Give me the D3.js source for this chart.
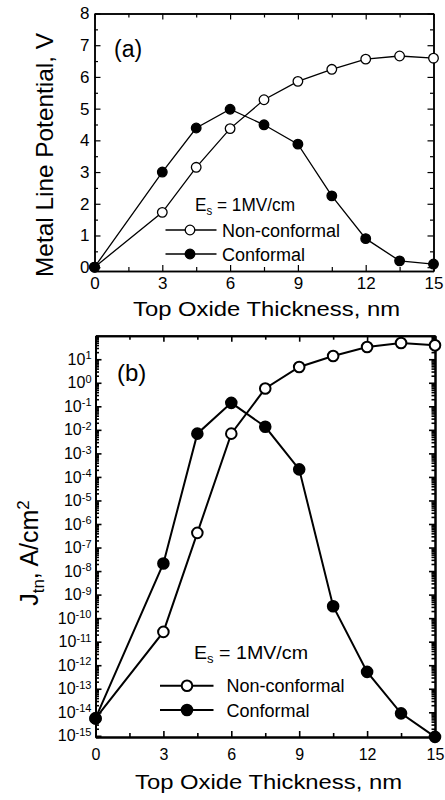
<!DOCTYPE html>
<html><head><meta charset="utf-8">
<script src="https://cdn.jsdelivr.net/npm/d3@7"></script>
<style>
body{margin:0;background:#fff}
svg{display:block}
text{font-family:"Liberation Sans",Arial,Helvetica,sans-serif;fill:#000}
</style>
</head><body>
<svg id="c" width="445" height="800"></svg>
<script>
// ---- data ----
const thickness = [0, 3, 4.5, 6, 7.5, 9, 10.5, 12, 13.5, 15];
const potNonConformal = [0, 1.73, 3.15, 4.37, 5.28, 5.86, 6.24, 6.56, 6.66, 6.59];
const potConformal = [0, 3.0, 4.39, 4.98, 4.49, 3.88, 2.25, 0.9, 0.2, 0.1];
const jNonConformal = [5.5e-15, 2.6e-11, 4.2e-7, 6.9e-3, 0.57, 4.7, 13.8, 33, 49, 39];
const jConformal = [5.5e-15, 2.1e-8, 6.9e-3, 0.14, 0.0135, 2.1e-4, 3.2e-10, 5.2e-13, 9e-15, 9e-16];
const xMajorTicks = [0, 3, 6, 9, 12, 15];
const xMinorTicks = [1.5, 4.5, 7.5, 10.5, 13.5];
const yTicksA = [0, 1, 2, 3, 4, 5, 6, 7, 8];
const yMinorA = [0.5, 1.5, 2.5, 3.5, 4.5, 5.5, 6.5, 7.5];
const yExponentsB = [-15, -14, -13, -12, -11, -10, -9, -8, -7, -6, -5, -4, -3, -2, -1, 0, 1];
const seriesNames = ["Non-conformal", "Conformal"];
const fieldLabel = "1MV/cm";

const svg = d3.select("#c");

// ---- scales ----
const xA = d3.scaleLinear().domain([0, 15]).range([94.5, 433.5]);
const yA = d3.scaleLinear().domain([-0.12, 8]).range([271, 13.5]);
const xB = d3.scaleLinear().domain([0, 15]).range([95.5, 435]);
const yB = d3.scaleLog().domain([Math.pow(10, -15.05), 100]).range([737, 335.7]);

function styleAxis(g, w) {
  g.selectAll("path.domain").attr("stroke", "#000").attr("stroke-width", w);
  g.selectAll(".tick line").attr("stroke", "#000").attr("stroke-width", w * 0.8);
  g.selectAll("text").attr("font-family", null).attr("fill", "#000");
}

// ---------- Panel (a) ----------
const pa = svg.append("g");
const ha = yA.range()[0], ta = yA.range()[1];
function frame(g, x, y, w, minorX, majorX, minorY, majorY, labFmt, labelPadY, labelPadX, fs) {
  const top = y.range()[1], bot = y.range()[0], left = x.range()[0], right = x.range()[1];
  // bottom
  g.append("g").attr("transform", `translate(0,${bot})`)
    .call(d3.axisBottom(x).tickValues(xMajorTicks).tickSize(-6).tickSizeOuter(0).tickPadding(labelPadX).tickFormat(d3.format("d")))
    .call(s => styleAxis(s, w)).call(s => s.selectAll("text").attr("font-size", fs));
  g.append("g").attr("transform", `translate(0,${bot})`)
    .call(d3.axisBottom(x).tickValues(xMinorTicks).tickSize(-4).tickSizeOuter(0).tickFormat(""))
    .call(s => styleAxis(s, w));
  // top
  g.append("g").attr("transform", `translate(0,${top})`)
    .call(d3.axisTop(x).tickValues(xMajorTicks).tickSize(-6).tickSizeOuter(0).tickFormat(""))
    .call(s => styleAxis(s, w));
  g.append("g").attr("transform", `translate(0,${top})`)
    .call(d3.axisTop(x).tickValues(xMinorTicks).tickSize(-4).tickSizeOuter(0).tickFormat(""))
    .call(s => styleAxis(s, w));
  // left
  const la = d3.axisLeft(y).tickValues(majorY).tickSize(-6).tickSizeOuter(0).tickPadding(labelPadY).tickFormat(labFmt);
  const lg = g.append("g").attr("transform", `translate(${left},0)`).call(la).call(s => styleAxis(s, w));
  lg.selectAll("text").attr("font-size", fs);
  g.append("g").attr("transform", `translate(${left},0)`)
    .call(d3.axisLeft(y).tickValues(minorY).tickSize(-3.5).tickSizeOuter(0).tickFormat(""))
    .call(s => styleAxis(s, w));
  // right
  g.append("g").attr("transform", `translate(${right},0)`)
    .call(d3.axisRight(y).tickValues(majorY).tickSize(-6).tickSizeOuter(0).tickFormat(""))
    .call(s => styleAxis(s, w));
  g.append("g").attr("transform", `translate(${right},0)`)
    .call(d3.axisRight(y).tickValues(minorY).tickSize(-3.5).tickSizeOuter(0).tickFormat(""))
    .call(s => styleAxis(s, w));
  return lg;
}

frame(pa, xA, yA, 1.5, xMinorTicks, xMajorTicks, yMinorA, yTicksA, d3.format("d"), 5, 6, "17px");

function drawSeries(g, x, y, vals, filled, lw, r) {
  const pts = thickness.map((t, i) => [t, vals[i]]);
  g.append("path").datum(pts)
    .attr("fill", "none").attr("stroke", "#000").attr("stroke-width", lw)
    .attr("d", d3.line().x(d => x(d[0])).y(d => y(d[1])));
  g.selectAll(null).data(pts).enter().append("circle")
    .attr("cx", d => x(d[0])).attr("cy", d => y(d[1])).attr("r", r)
    .attr("fill", filled ? "#000" : "#fff").attr("stroke", "#000").attr("stroke-width", lw);
}
drawSeries(pa, xA, yA, potNonConformal, false, 1.3, 4.8);
drawSeries(pa, xA, yA, potConformal, true, 1.3, 4.8);

pa.append("text").attr("x", 114).attr("y", 57).attr("font-size", "23px").text("(a)");

// x title (a)
pa.append("text").attr("x", 133).attr("y", 316).attr("font-size", "20px")
  .attr("textLength", 267).attr("lengthAdjust", "spacingAndGlyphs").text("Top Oxide Thickness, nm");
// y title (a)
pa.append("text").attr("transform", "translate(53,155) rotate(-90)").attr("text-anchor", "middle")
  .attr("font-size", "24px").attr("textLength", 244).attr("lengthAdjust", "spacingAndGlyphs")
  .text("Metal Line Potential, V");

function legend(g, ex, ey, eLen, rows, lx1, lx2, cx, tx, r, lw) {
  const t = g.append("text").attr("x", ex).attr("y", ey).attr("font-size", "18px")
    .attr("textLength", eLen).attr("lengthAdjust", "spacingAndGlyphs");
  t.append("tspan").text("E");
  t.append("tspan").attr("font-size", "12px").attr("dy", "4").text("s");
  t.append("tspan").attr("dy", "-4").text(" = " + fieldLabel);
  seriesNames.forEach((name, i) => {
    const yy = rows[i];
    g.append("line").attr("x1", lx1).attr("x2", lx2).attr("y1", yy).attr("y2", yy)
      .attr("stroke", "#000").attr("stroke-width", lw);
    g.append("circle").attr("cx", cx).attr("cy", yy).attr("r", r)
      .attr("fill", i === 0 ? "#fff" : "#000").attr("stroke", "#000").attr("stroke-width", lw);
    g.append("text").attr("x", tx).attr("y", yy + 6.5).attr("font-size", "18px").text(name);
  });
}
legend(pa, 195, 211, 100, [230, 254], 165.5, 216.5, 190, 222, 4.8, 1.3);

// ---------- Panel (b) ----------
const pb = svg.append("g");
const minorB = [];
yExponentsB.concat([-16]).forEach(e => {
  for (let m = 2; m <= 9; m++) {
    const v = m * Math.pow(10, e);
    if (v > yB.domain()[0] && v < yB.domain()[1]) minorB.push(v);
  }
});
const majorB = yExponentsB.map(e => Math.pow(10, e));
const lgB = frame(pb, xB, yB, 2, xMinorTicks, xMajorTicks, minorB, majorB, d => "10", 4, 12, "16px");
lgB.selectAll(".tick text").each(function (d) {
  const e = Math.round(Math.log10(d));
  const t = d3.select(this);
  t.text("10");
  t.append("tspan").attr("dy", "-0.5em").attr("font-size", "11px").text(e < 0 ? "-" + (-e) : String(e));
});

drawSeries(pb, xB, yB, jNonConformal, false, 2, 5.3);
drawSeries(pb, xB, yB, jConformal, true, 2, 5.3);

pb.append("text").attr("x", 117).attr("y", 381).attr("font-size", "24px").text("(b)");

pb.append("text").attr("x", 135).attr("y", 789).attr("font-size", "20px")
  .attr("textLength", 267).attr("lengthAdjust", "spacingAndGlyphs").text("Top Oxide Thickness, nm");

const yt = pb.append("text").attr("transform", "translate(38,553) rotate(-90)").attr("text-anchor", "middle")
  .attr("font-size", "25px");
yt.append("tspan").text("J");
yt.append("tspan").attr("font-size", "17px").attr("dy", "6").text("tn");
yt.append("tspan").attr("dy", "-6").text(", A/cm");
yt.append("tspan").attr("font-size", "17px").attr("dy", "-9").text("2");

legend(pb, 194, 659, 114, [685.7, 710], 160, 213.5, 187, 226.5, 5.3, 2);
</script>
</body></html>
